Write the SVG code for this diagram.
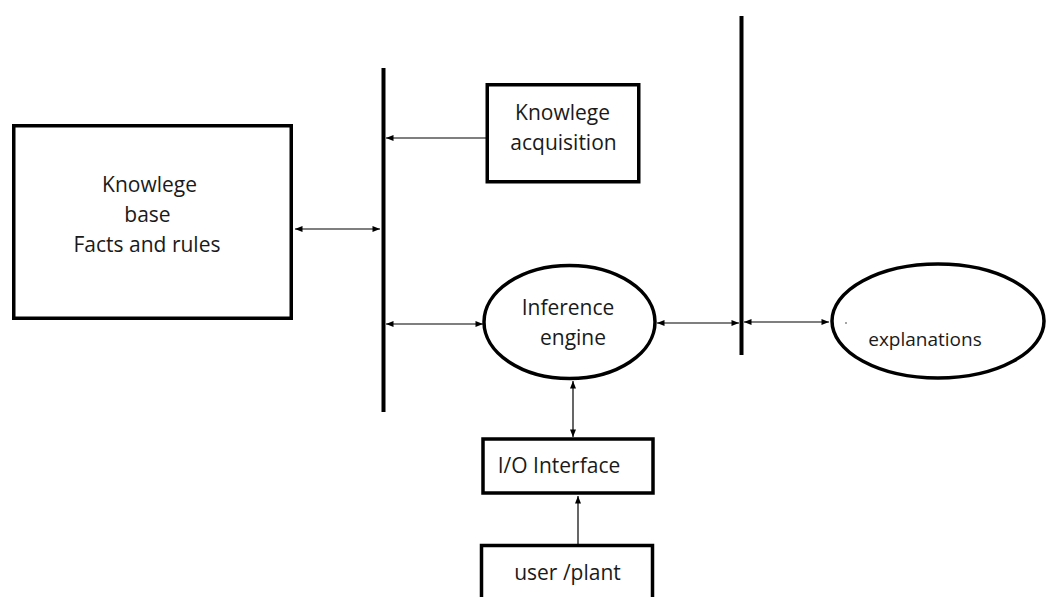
<svg xmlns="http://www.w3.org/2000/svg" width="1046" height="597" viewBox="0 0 1046 597">
<style>
.box{fill:#fff;stroke:#000;stroke-width:3.5}
.bar{fill:#000}
.t{font-family:"Open Sans","Noto Sans",sans-serif;font-size:21px;fill:#1a1a1a;text-anchor:middle}
.s{font-size:19px}
.c{stroke:#000;stroke-width:1.2;fill:none}
</style>
<defs>
<marker id="ah" viewBox="0 0 10 8" refX="10" refY="4" markerWidth="8" markerHeight="6" markerUnits="userSpaceOnUse" orient="auto-start-reverse">
<path d="M0,0 L10,4 L0,8 Z" fill="#000"/>
</marker>
</defs>
<rect width="1046" height="597" fill="#fff"/>
<g id="bars">
<rect class="bar" x="381.5" y="68" width="4" height="344"/>
<rect class="bar" x="739.5" y="16" width="4" height="339"/>
</g>
<g id="kb">
<rect class="box" x="13.75" y="125.75" width="277.5" height="192.5"/>
<text class="t" x="149.5" y="192">Knowlege</text>
<text class="t" x="147.5" y="222">base</text>
<text class="t" x="147" y="252">Facts and rules</text>
</g>
<g id="ka">
<rect class="box" x="487.25" y="84.75" width="151.5" height="97"/>
<text class="t" x="562.5" y="120">Knowlege</text>
<text class="t" x="563.5" y="150">acquisition</text>
</g>
<g id="ie">
<ellipse class="box" cx="569.5" cy="322" rx="85.5" ry="56.5"/>
<text class="t" x="568" y="315">Inference</text>
<text class="t" x="573" y="345">engine</text>
</g>
<g id="exp">
<ellipse class="box" cx="938" cy="321" rx="106" ry="57"/>
<circle cx="846" cy="323" r="0.8" fill="#333"/>
<text class="t s" x="925" y="346">explanations</text>
</g>
<g id="io">
<rect class="box" x="483" y="439" width="170" height="54"/>
<text class="t" x="559" y="473">I/O Interface</text>
</g>
<g id="user">
<rect class="box" x="481.5" y="545.5" width="171" height="60"/>
<text class="t" x="567.5" y="580">user /plant</text>
</g>
<g id="connectors">
<line class="c" x1="486" y1="138" x2="386" y2="138" marker-end="url(#ah)"/>
<line class="c" x1="295" y1="229" x2="380" y2="229" marker-start="url(#ah)" marker-end="url(#ah)"/>
<line class="c" x1="386" y1="324" x2="483" y2="324" marker-start="url(#ah)" marker-end="url(#ah)"/>
<line class="c" x1="657" y1="323" x2="739" y2="323" marker-start="url(#ah)" marker-end="url(#ah)"/>
<line class="c" x1="744" y1="322" x2="829" y2="322" marker-start="url(#ah)" marker-end="url(#ah)"/>
<line class="c" x1="573" y1="381" x2="573" y2="437" marker-start="url(#ah)" marker-end="url(#ah)"/>
<line class="c" x1="578" y1="544" x2="578" y2="496" marker-end="url(#ah)"/>
</g>
</svg>
